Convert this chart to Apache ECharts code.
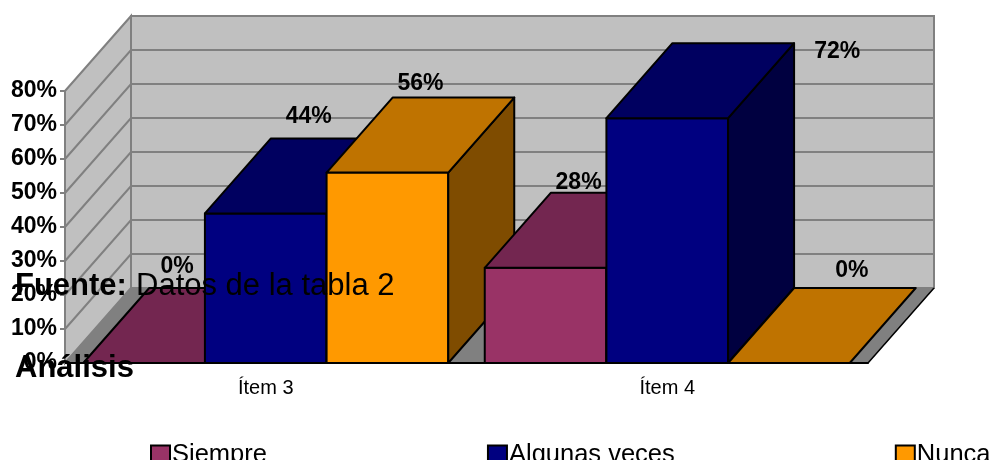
<!DOCTYPE html>
<html>
<head>
<meta charset="utf-8">
<style>
  html, body { margin: 0; padding: 0; background: #fff; overflow: hidden; }
  #chart { width: 993px; height: 460px; }
</style>
<script src="https://cdn.jsdelivr.net/npm/echarts@6/dist/echarts.min.js"></script>
</head>
<body>
<div id="chart"></div>
<script>
const categories = ['Ítem 3', 'Ítem 4']
const siempre = [0, 28]
const algunasVeces = [44, 72]
const nunca = [56, 0]

const FONT = '"Liberation Sans", Arial, sans-serif'
// profundidad del efecto 3D
const DEPTH_X = 66
const DEPTH_Y = -75
const GAP_WIDTH = 0.3

// etiquetas movidas a mano en el original: [serie][categoria] = [dx, dy]
const labelShift = [
  [[0, -7], [0, 4]],
  [[10, -7], [137, 23]],
  [[0, 1], [30, -3]]
]

const quad = (a, b, c, d) => [a, b, c, d]
const back = p => [p[0] + DEPTH_X, p[1] + DEPTH_Y]

function renderWalls(params, api) {
  const cs = params.coordSys
  const left = cs.x
  const right = cs.x + cs.width
  const bottom = cs.y + cs.height
  const top = cs.y
  const children = []
  const wallStyle = { fill: '#c0c0c0', stroke: '#808080', lineWidth: 2 }
  const poly = (points, style) => ({ type: 'polygon', shape: { points }, style, z2: 1 })

  // pared izquierda, pared del fondo y suelo
  children.push(poly(quad([left, top], back([left, top]), back([left, bottom]), [left, bottom]), wallStyle))
  children.push(poly(quad(back([left, top]), back([right, top]), back([right, bottom]), back([left, bottom])), wallStyle))
  children.push(poly(quad([left, bottom], back([left, bottom]), back([right, bottom]), [right, bottom]), {
    fill: '#808080', stroke: '#808080', lineWidth: 1
  }))
  // lineas de division sobre las paredes
  for (let v = 10; v < 80; v += 10) {
    const y = api.coord([0, v])[1]
    children.push({
      type: 'polyline',
      shape: { points: [[left, y], back([left, y]), back([right, y])] },
      style: { fill: null, stroke: '#808080', lineWidth: 2 },
      z2: 2
    })
  }
  // borde derecho del suelo
  children.push({
    type: 'line',
    shape: { x1: right, y1: bottom, x2: right + DEPTH_X, y2: bottom + DEPTH_Y },
    style: { stroke: '#000', lineWidth: 1.5 },
    z2: 2
  })
  return { type: 'group', children }
}

function barRenderer(index, front, topFace, side) {
  return function (params, api) {
    const cat = api.value(0)
    const value = api.value(1)
    const center = api.coord([cat, 0])
    const band = api.size([1, 0])[0]
    const w = band / (3 + GAP_WIDTH)
    const x0 = center[0] - 1.5 * w + index * w
    const x1 = x0 + w
    const y0 = center[1]
    const y1 = api.coord([cat, value])[1]
    const z2 = 10 + cat * 10 + index
    const edge = { stroke: '#000', lineWidth: 2, lineJoin: 'round' }
    const poly = (points, fill) => ({
      type: 'polygon',
      shape: { points },
      style: { fill, ...edge },
      z2
    })
    const shift = labelShift[index][cat]
    const children = []
    if (value > 0) {
      children.push(poly(quad([x0, y0], [x0, y1], [x1, y1], [x1, y0]), front))
      children.push(poly(quad([x1, y0], [x1, y1], back([x1, y1]), back([x1, y0])), side))
    }
    children.push(poly(quad([x0, y1], back([x0, y1]), back([x1, y1]), [x1, y1]), topFace))
    children.push({
      type: 'text',
      style: {
        text: value + '%',
        x: (x0 + x1) / 2 + DEPTH_X / 2 + shift[0],
        y: y1 + DEPTH_Y - 3 + shift[1],
        align: 'center',
        verticalAlign: 'bottom',
        fill: '#000',
        font: 'bold 23px ' + FONT
      },
      z2: 60
    })
    return { type: 'group', children }
  }
}

const toPoints = values => values.map((v, i) => [i, v])

const chart = echarts.init(document.getElementById('chart'), null, { renderer: 'canvas' })
chart.setOption({
  animation: false,
  backgroundColor: '#fff',
  grid: { left: 65, right: 125, top: 91, height: 272 },
  legend: {
    left: 145,
    top: 437,
    width: 848,
    itemGap: 220,
    itemWidth: 19,
    itemHeight: 19,
    textStyle: { color: '#000', fontFamily: FONT, fontSize: 25.5, padding: [0, 0, 0, -3] },
    data: [
      { name: 'Siempre', icon: 'rect', itemStyle: { color: '#993366', borderColor: '#000', borderWidth: 2 } },
      { name: 'Algunas veces', icon: 'rect', itemStyle: { color: '#000080', borderColor: '#000', borderWidth: 2 } },
      { name: 'Nunca', icon: 'rect', itemStyle: { color: '#ff9900', borderColor: '#000', borderWidth: 2 } }
    ]
  },
  xAxis: {
    type: 'category',
    data: categories,
    z: 5,
    axisLine: { lineStyle: { color: '#000', width: 2 } },
    axisTick: { length: 6, lineStyle: { color: '#000', width: 1 } },
    axisLabel: { color: '#000', fontFamily: FONT, fontSize: 20, margin: 15 }
  },
  yAxis: {
    type: 'value',
    min: 0,
    max: 80,
    interval: 10,
    z: 5,
    axisLine: { show: true, lineStyle: { color: '#808080', width: 2 } },
    axisTick: { show: true, length: 5, lineStyle: { color: '#808080', width: 2 } },
    axisLabel: {
      color: '#000',
      fontFamily: FONT,
      fontSize: 23,
      fontWeight: 'bold',
      margin: 8,
      formatter: '{value}%'
    },
    splitLine: { show: false }
  },
  series: [
    { type: 'custom', silent: true, z: 1, renderItem: renderWalls, data: [[0, 0]], clip: false },
    {
      type: 'custom', name: 'Siempre', z: 2, clip: false, data: toPoints(siempre),
      itemStyle: { color: '#993366' },
      renderItem: barRenderer(0, '#993366', '#732650', '#4d1a33')
    },
    {
      type: 'custom', name: 'Algunas veces', z: 2, clip: false, data: toPoints(algunasVeces),
      itemStyle: { color: '#000080' },
      renderItem: barRenderer(1, '#000080', '#000060', '#000040')
    },
    {
      type: 'custom', name: 'Nunca', z: 2, clip: false, data: toPoints(nunca),
      itemStyle: { color: '#ff9900' },
      renderItem: barRenderer(2, '#ff9900', '#bf7300', '#7f4c00')
    }
  ],
  graphic: [
    { type: 'text', z: 100, left: 15, top: 271, style: { text: 'Fuente:', fill: '#000', font: 'bold 31px ' + FONT } },
    { type: 'text', z: 100, left: 136, top: 271, style: { text: 'Datos de la tabla 2', fill: '#000', font: '31px ' + FONT } },
    { type: 'text', z: 100, left: 15, top: 353, style: { text: 'Análisis', fill: '#000', font: 'bold 31px ' + FONT } }
  ]
})
</script>
</body>
</html>
